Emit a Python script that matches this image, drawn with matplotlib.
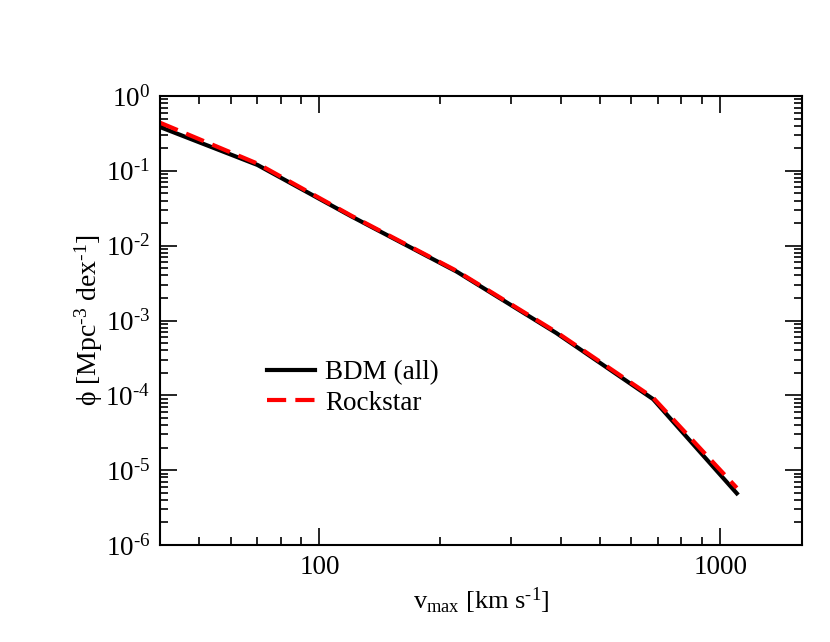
import numpy as np
import matplotlib
matplotlib.use('Agg')
import matplotlib.pyplot as plt
from matplotlib.ticker import LogLocator, FixedLocator, NullFormatter

# ===== data =====
v_bdm = [40, 70, 120, 220, 390, 680, 1100]
phi_bdm = [0.385, 0.12, 0.0247, 4.5e-3, 6.8e-4, 8.9e-5, 4.9e-6]

v_rock = [40, 70, 120, 220, 390, 680, 1100]
phi_rock = [0.44, 0.125, 0.0252, 4.6e-3, 7.0e-4, 9.3e-5, 5.8e-6]

x_ticks = [100, 1000]
x_ticklabels = ['100', '1000']
y_ticks = [1e-6, 1e-5, 1e-4, 1e-3, 1e-2, 1e-1, 1e0]
y_ticklabels = [r'$10^{\text{-}6}$', r'$10^{\text{-}5}$', r'$10^{\text{-}4}$', r'$10^{\text{-}3}$',
                r'$10^{\text{-}2}$', r'$10^{\text{-}1}$', r'$10^{0}$']

plt.rcParams['font.family'] = ['Liberation Serif', 'DejaVu Serif']
plt.rcParams['mathtext.fontset'] = 'custom'
plt.rcParams['mathtext.rm'] = 'Liberation Serif'
plt.rcParams['mathtext.it'] = 'Liberation Serif'
plt.rcParams['mathtext.default'] = 'rm'

fig = plt.figure(figsize=(8.3, 6.42), dpi=100)
ax = fig.add_axes([160/830, 1-545/642, 642/830, 449/642])

ax.plot(v_bdm, phi_bdm, color='black', lw=3, label='BDM (all)')
ax.plot(v_rock, phi_rock, color='red', lw=3, dashes=(4.6, 2.2), label='Rockstar')

ax.set_xscale('log')
ax.set_yscale('log')
ax.set_xlim(40, 1600)
ax.set_ylim(1e-6, 1)

ax.xaxis.set_major_locator(FixedLocator(x_ticks))
ax.set_xticklabels(x_ticklabels)
ax.xaxis.set_minor_locator(LogLocator(base=10, subs=np.arange(2, 10)))
ax.xaxis.set_minor_formatter(NullFormatter())
ax.yaxis.set_major_locator(FixedLocator(y_ticks))
ax.set_yticklabels(y_ticklabels)
ax.yaxis.set_minor_locator(LogLocator(base=10, subs=np.arange(2, 10), numticks=20))
ax.yaxis.set_minor_formatter(NullFormatter())

ax.tick_params(which='both', direction='in', top=True, right=True, width=1.2, labelsize=19.5)
ax.tick_params(which='major', length=12, pad=7)
ax.tick_params(which='minor', length=6)
for s in ax.spines.values():
    s.set_linewidth(1.5)

ax.set_xlabel(r'v$_{\rm max}$ [km s$^{\text{-}1}$]', fontsize=19, labelpad=4)
ax.set_ylabel(r'ϕ [Mpc$^{\text{-}3}$ dex$^{\text{-}1}$]', fontsize=20, labelpad=0)

ax.legend(loc='upper left', bbox_to_anchor=(0.15, 0.435), frameon=False,
          fontsize=19.5, handlelength=1.75, handletextpad=0.4, labelspacing=0.2,
          borderaxespad=0)

fig.savefig('out.png', dpi=100)
